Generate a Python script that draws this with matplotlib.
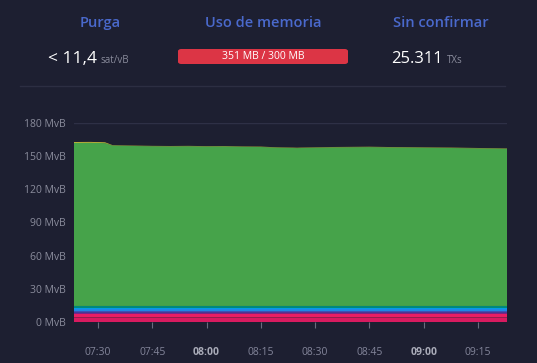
import matplotlib.pyplot as plt
from matplotlib.patches import FancyBboxPatch
from matplotlib.lines import Line2D

# minutes after 07:00
minutes = [23.4, 28, 32, 34, 40, 45, 50, 55, 60, 65, 70, 75, 80, 85, 90, 95,
           100, 105, 110, 115, 120, 125, 130, 135, 140, 143]

# stacked fee layers (MvB), bottom to top
layer_names = ['1-2', '2-3', '3-4', '4-5', '5-6', '6-8', '8-10', '10-15', '15+']
pink_dark = [4.0] * 26
pink = [3.5, 3.5, 3.5, 3.5, 3.5, 3.5, 3.5, 3.5, 3.6, 3.6, 3.6, 3.6, 3.7,
        3.7, 3.7, 3.6, 3.6, 3.6, 3.6, 3.6, 3.6, 3.6, 3.6, 3.6, 3.6, 3.6]
purple = [1.0] * 26
indigo = [1.5, 1.5, 1.5, 1.5, 1.5, 1.5, 1.5, 1.5, 1.4, 1.4, 1.4, 1.4, 1.3,
          1.3, 1.3, 1.4, 1.4, 1.4, 1.4, 1.4, 1.4, 1.4, 1.4, 1.4, 1.4, 1.4]
blue = [2.0] * 26
cyan = [1.0] * 26
teal = [1.5] * 26
green = [147.5, 147.6, 147.3, 145.2, 144.7, 144.5, 144.4, 144.5, 144.3,
         144.4, 144.0, 143.8, 143.2, 142.8, 143.2, 143.5, 143.6, 143.7,
         143.5, 143.4, 143.2, 143.0, 142.8, 142.6, 142.4, 142.2]
yellow = [0.8, 0.8, 0.7, 0.3, 0.3, 0.3, 0.3, 0.3, 0.3, 0.3, 0.3, 0.3, 0.3,
          0.3, 0.3, 0.3, 0.3, 0.3, 0.3, 0.3, 0.3, 0.3, 0.3, 0.3, 0.3, 0.3]
layer_colors = ['#d81b60', '#e91e63', '#8e24aa', '#3f51b5', '#1e88e5',
                '#039be5', '#00897b', '#46a34a', '#c9c23a']

tick_minutes = [30, 45, 60, 75, 90, 105, 120, 135]
tick_labels = ['07:30', '07:45', '08:00', '08:15', '08:30', '08:45', '09:00', '09:15']
bold_labels = ['08:00', '09:00']
y_ticks = [0, 30, 60, 90, 120, 150, 180]

bg = '#1d1f31'
W, H = 537, 363

fig = plt.figure(figsize=(W / 100, H / 100), dpi=100, facecolor=bg)
plt.rcParams['font.family'] = ['Open Sans', 'DejaVu Sans']


def fx(x):
    return x / W


def fy(y):
    return 1 - y / H


# header
title_col = '#4a69cc'
for x, t in [(100, 'Purga'), (263, 'Uso de memoria'), (441, 'Sin confirmar')]:
    fig.text(fx(x), fy(23), t, color=title_col, fontsize=10.5,
             fontweight='semibold', ha='center', va='center')

fig.text(fx(97), fy(63), '< 11,4', color='white', fontsize=12.5,
         ha='right', va='baseline')
fig.text(fx(101), fy(63), 'sat/vB', color='#8a8c9c', fontsize=7,
         ha='left', va='baseline')
fig.text(fx(443), fy(63), '25.311', color='white', fontsize=12,
         ha='right', va='baseline')
fig.text(fx(447), fy(63), 'TXs', color='#8a8c9c', fontsize=7,
         ha='left', va='baseline')

bar = FancyBboxPatch((fx(178), fy(64)), fx(348) - fx(178), fy(49) - fy(64),
                     boxstyle='round,pad=0,rounding_size=0.006',
                     transform=fig.transFigure, facecolor='#dc3545',
                     edgecolor='none')
fig.patches.append(bar)
fig.text(fx(263), fy(56.5), '351 MB / 300 MB', color='white', fontsize=7.5,
         ha='center', va='center')

fig.lines.append(Line2D([fx(20), fx(505)], [fy(86), fy(86)],
                        transform=fig.transFigure, color='#2c2e42', lw=1))

# chart
ax = fig.add_axes([fx(74), fy(322), fx(507) - fx(74), (322 - 123) / H])
ax.set_facecolor(bg)
ax.stackplot(minutes, pink_dark, pink, purple, indigo, blue, cyan, teal,
             green, yellow, colors=layer_colors, labels=layer_names,
             linewidth=0, zorder=2)
ax.set_xlim(23.4, 143)
ax.set_ylim(0, 180)

ax.set_yticks(y_ticks)
ax.set_yticklabels([f'{v} MvB' for v in y_ticks])
ax.set_xticks(tick_minutes)
ax.set_xticklabels(tick_labels)
for lbl in ax.get_xticklabels():
    if lbl.get_text() in bold_labels:
        lbl.set_fontweight('bold')
        lbl.set_color('#a9abb8')
    else:
        lbl.set_color('#83859a')
for lbl in ax.get_yticklabels():
    lbl.set_color('#8a8c9c')

ax.tick_params(axis='y', length=0, pad=6, labelsize=7.5)
ax.tick_params(axis='x', length=4, color='#6a6c7e', pad=14, labelsize=7.5)
ax.grid(axis='y', color='#2e3046', lw=1, zorder=0)
ax.set_axisbelow(True)
for s in ax.spines.values():
    s.set_visible(False)

plt.savefig('out.png', dpi=100, facecolor=bg)
